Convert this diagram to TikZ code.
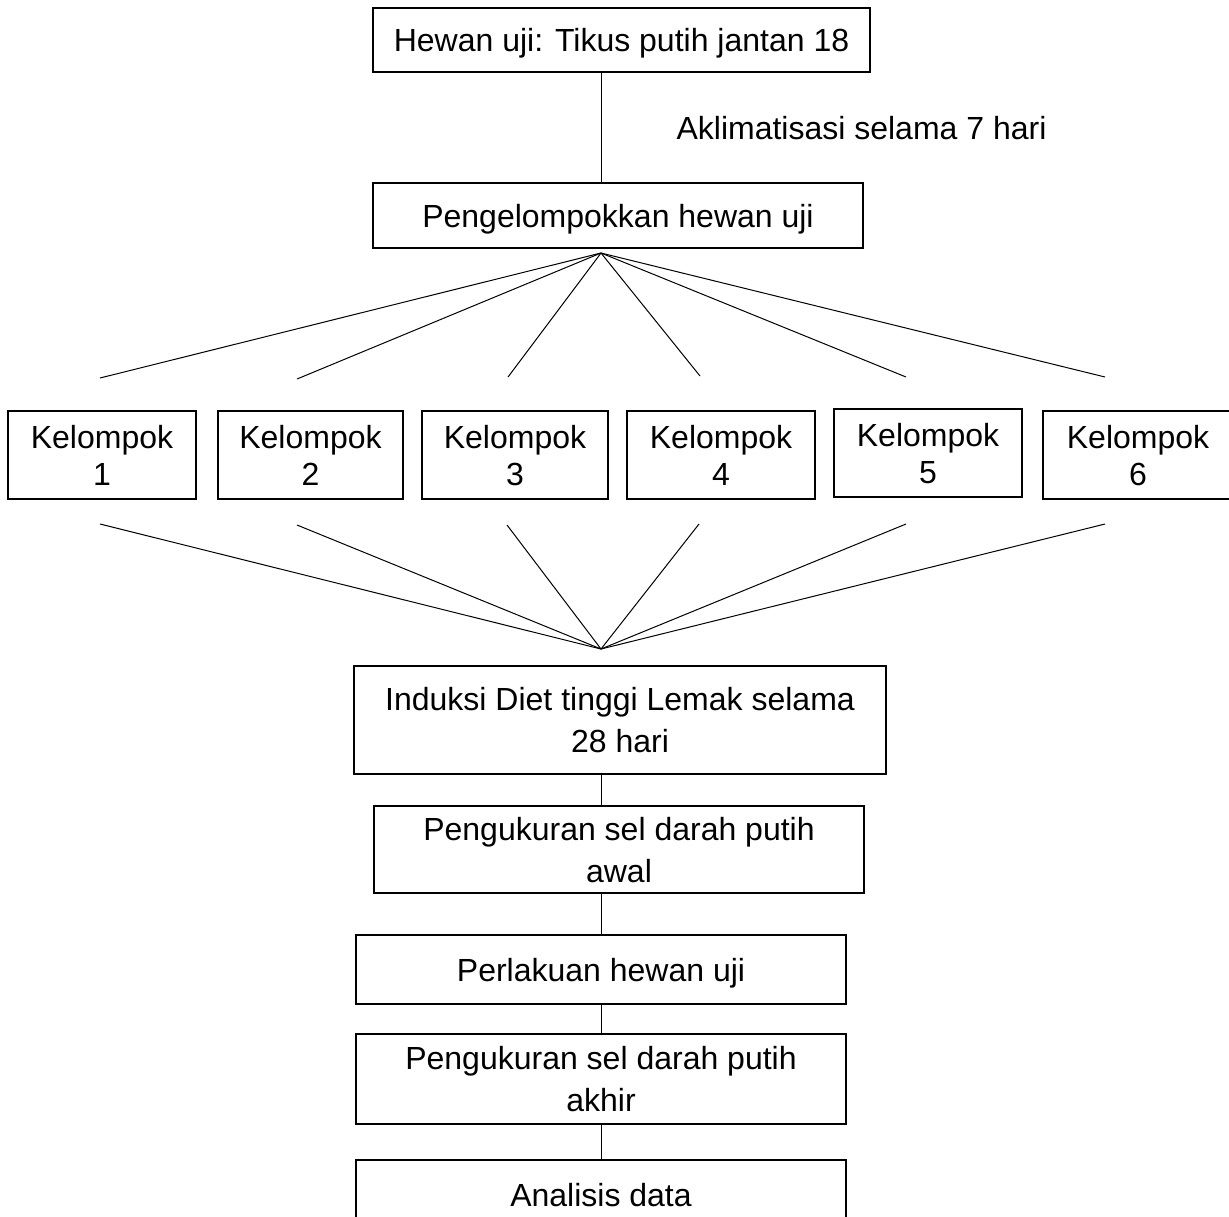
\documentclass[tikz,border=0pt]{standalone}
\usepackage{fontspec}
\setmainfont{Liberation Sans}
\usetikzlibrary{positioning}

\begin{document}
\begin{tikzpicture}[x=0.5pt, y=-0.5pt, draw=black, line width=.5pt,
		font=\fontsize{16}{21}\selectfont]
		\tikzstyle{stage}=[rectangle, draw=black, line width=.7pt, align=center, inner sep=0pt, text depth=0pt]
		\tikzstyle{group}=[stage, minimum height=44pt, font=\fontsize{16}{18.5}\selectfont]
		\tikzstyle{annot}=[inner sep=0pt]
		\tikzstyle{link}=[line width=.5pt]

		\useasboundingbox (0,0) rectangle (1229,1216);

		\node[stage, minimum width=248.5pt, minimum height=32pt](top) at (621.5,40) {Hewan uji: Tikus putih jantan 18};
		\node[annot](acl) at (861.5,128) {Aklimatisasi selama 7 hari};
		\node[stage, minimum width=245pt, minimum height=32.5pt](grp) at (618,215.5) {Pengelompokkan hewan uji};

		\node[group, minimum width=94pt](K1) at (102,455) {Kelompok\\1};
		\node[group, minimum width=92.5pt](K2) at (310.5,455) {Kelompok\\2};
		\node[group, minimum width=93pt](K3) at (515,455) {Kelompok\\3};
		\node[group, minimum width=94pt](K4) at (721,455) {Kelompok\\4};
		\node[group, minimum width=94pt](K5) at (928,453) {Kelompok\\5};
		\node[group, minimum width=95pt](K6) at (1138,455) {Kelompok\\6};

		\node[stage, minimum width=266pt, minimum height=54pt](ind) at (620,720) {Induksi Diet tinggi Lemak selama\\28 hari};
		\node[stage, minimum width=245pt, minimum height=43.5pt](awal) at (619,849.5) {Pengukuran sel darah putih\\awal};
		\node[stage, minimum width=245pt, minimum height=34.5pt](treat) at (601,969.5) {Perlakuan hewan uji};
		\node[stage, minimum width=245pt, minimum height=45pt](akhir) at (601,1079) {Pengukuran sel darah putih\\akhir};
		\node[stage, minimum width=245pt, minimum height=35pt](ana) at (601,1195) {Analisis data};

		\newcommand{\spinex}{601}
		\coordinate (spine) at (\spinex,0);
		\coordinate (fan top) at (\spinex,253);
		\coordinate (fan bot) at (\spinex,649);

		% fan ends above and below the groups
		\coordinate (u1) at (100,378);
		\coordinate (u2) at (297,379);
		\coordinate (u3) at (508,377);
		\coordinate (u4) at (700,376);
		\coordinate (u5) at (906,377);
		\coordinate (u6) at (1105,377);
		\coordinate (d1) at (100,524);
		\coordinate (d2) at (297,525);
		\coordinate (d3) at (507,525);
		\coordinate (d4) at (699,524);
		\coordinate (d5) at (906,524);
		\coordinate (d6) at (1105,524);

		% Main line
		\path (top.south -| spine) edge [link] (grp.north -| spine);
		\path (ind.south -| spine) edge [link] (awal.north -| spine);
		\path (awal.south -| spine) edge [link] (treat.north -| spine);
		\path (treat.south -| spine) edge [link] (akhir.north -| spine);
		\path (akhir.south -| spine) edge [link] (ana.north -| spine);

		% Split into groups
		\path (fan top) edge [link] (u1);
		\path (fan top) edge [link] (u2);
		\path (fan top) edge [link] (u3);
		\path (fan top) edge [link] (u4);
		\path (fan top) edge [link] (u5);
		\path (fan top) edge [link] (u6);

		% Join again
		\path (d1) edge [link] (fan bot);
		\path (d2) edge [link] (fan bot);
		\path (d3) edge [link] (fan bot);
		\path (d4) edge [link] (fan bot);
		\path (d5) edge [link] (fan bot);
		\path (d6) edge [link] (fan bot);

\end{tikzpicture}
\end{document}
